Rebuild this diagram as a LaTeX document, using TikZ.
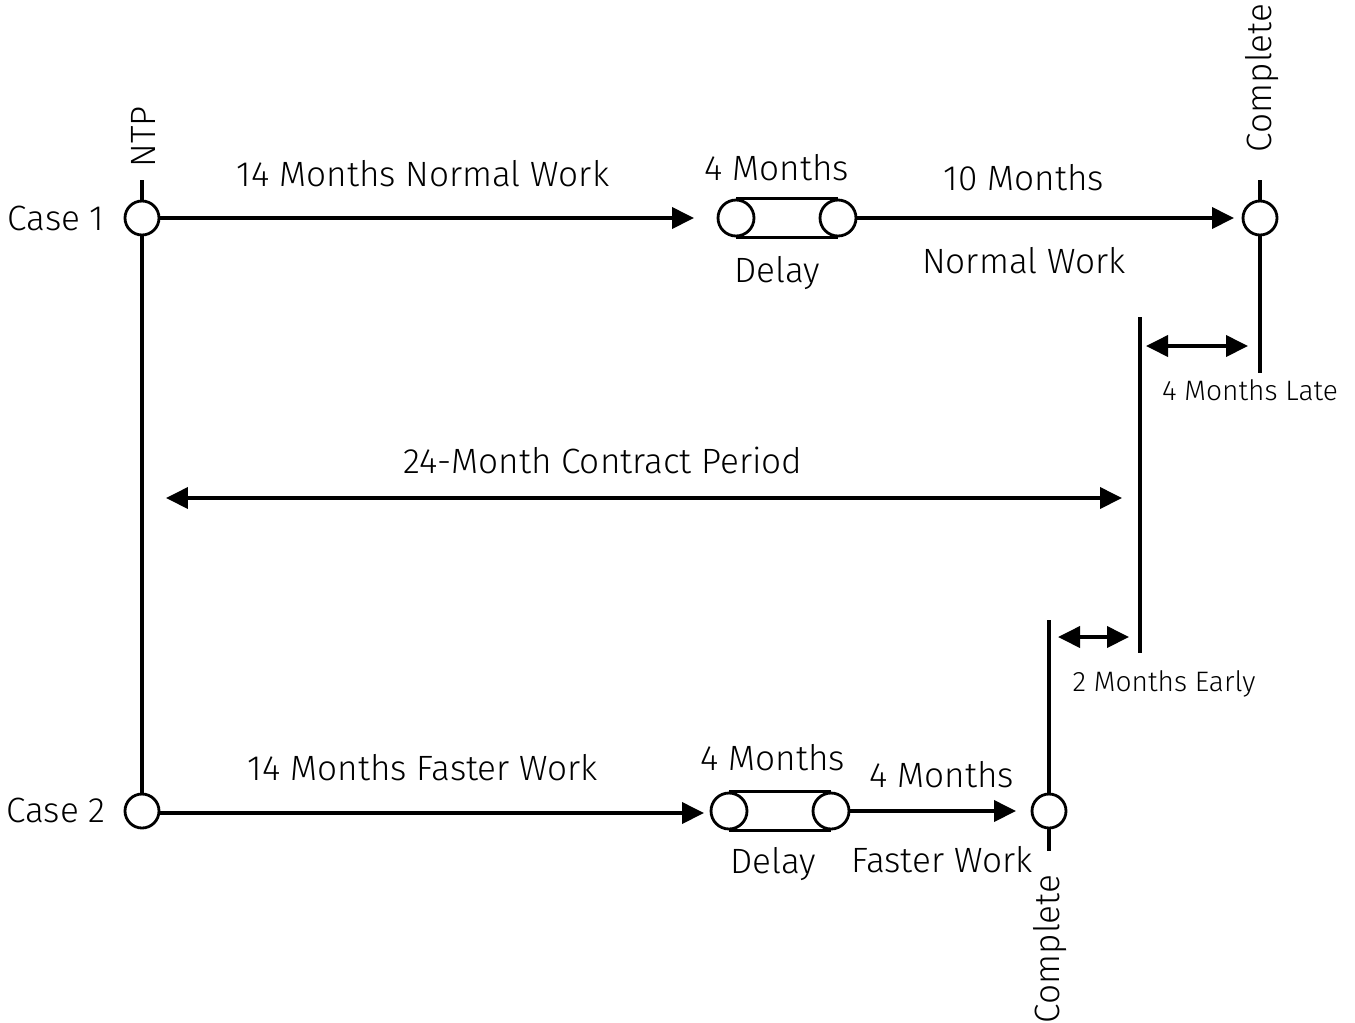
\documentclass[tikz,border=0pt]{standalone}
\usepackage{fontspec}
\setmainfont{Fira Sans}[UprightFont=* Light]
\usetikzlibrary{positioning,arrows.meta}

\begin{document}
\begin{tikzpicture}[x=0.02cm,y=-0.02cm,
    evt/.style={draw, circle, line width=1.6pt, minimum size=0.68cm, inner sep=0pt},
    roll/.style={draw, circle, line width=1.6pt, minimum size=0.72cm, inner sep=0pt},
    act/.style={line width=2.2pt, -{Triangle[length=0.44cm,width=0.42cm]}},
    span/.style={line width=2.2pt, {Triangle[length=0.44cm,width=0.42cm]}-{Triangle[length=0.44cm,width=0.42cm]}},
    tick/.style={line width=2.2pt},
    lbl/.style={font=\fontsize{20}{24}\selectfont, inner sep=0pt},
    small/.style={font=\fontsize{16}{19}\selectfont, inner sep=0pt}]
      \useasboundingbox (0,0) rectangle (1355,1022);

      % Case 1 events
      \node[evt] (ntp) at (142, 218) {};
      \node[roll] (d1a) at (736, 218) {};
      \node[roll] (d1b) at (838, 218) {};
      \node[evt] (end1) at (1260, 218) {};

      % Case 2 events
      \node[evt] (c2) at (142, 811) {};
      \node[roll] (d2a) at (729, 811) {};
      \node[roll] (d2b) at (831, 811) {};
      \node[evt] (end2) at (1049, 811) {};

      % Free ends of the ticks and arrows
      \coordinate (ntptop) at (142, 180);
      \coordinate (end1top) at (1260, 180);
      \coordinate (end1bot) at (1260, 373);
      \coordinate (end2top) at (1049, 620);
      \coordinate (end2bot) at (1049, 851);
      \coordinate (duetop) at (1140, 317);
      \coordinate (duebot) at (1140, 653);
      \coordinate (d1in) at (694, 218);
      \coordinate (end1in) at (1234, 218);
      \coordinate (d2in) at (704, 813);
      \coordinate (end2in) at (1016, 811);

      % Ticks
      \draw[tick] (ntp) -- (ntptop);
      \draw[tick] (ntp) -- (c2);
      \draw[tick] (end1) -- (end1top);
      \draw[tick] (end1) -- (end1bot);
      \draw[tick] (end2) -- (end2top);
      \draw[tick] (end2) -- (end2bot);
      \draw[tick] (duetop) -- (duebot);

      % Delay rollers
      \draw[line width=1.6pt] (d1a.north) -- (d1b.north) (d1a.south) -- (d1b.south);
      \draw[line width=1.6pt] (d2a.north) -- (d2b.north) (d2a.south) -- (d2b.south);

      % Work arrows
      \draw[act] (ntp.east |- 0,218) -- (d1in);
      \draw[act] (d1b) -- (end1in);
      \draw[act] (c2.east |- 0,813) -- (d2in);
      \draw[act] (d2b) -- (end2in);

      % Spans
      \draw[span] (166, 498) -- (1122, 498);
      \draw[span] (1146, 346) -- (1248, 346);
      \draw[span] (1058, 637) -- (1129, 637);

      % Labels
      \node[lbl] (case1) at (56, 218) {Case 1};
      \node[lbl] (case2) at (56, 810) {Case 2};
      \node[lbl, rotate=90] (ntplbl) at (143, 137) {NTP};
      \node[lbl, rotate=90] (done1) at (1262, 78) {Complete};
      \node[lbl, rotate=90] (done2) at (1050, 949) {Complete};
      \node[lbl] (w1) at (423, 174) {14 Months Normal Work};
      \node[lbl] (dl1) at (777, 168) {4 Months};
      \node[lbl] (dy1) at (777, 273) {Delay};
      \node[lbl] (r1) at (1024, 178) {10 Months};
      \node[lbl] (r1b) at (1024, 261) {Normal Work};
      \node[lbl] (cp) at (603, 460) {24-Month Contract Period};
      \node[small] (late) at (1250, 390) {4 Months Late};
      \node[small] (early) at (1164, 684) {2 Months Early};
      \node[lbl] (w2) at (423, 768) {14 Months Faster Work};
      \node[lbl] (dl2) at (773, 758) {4 Months};
      \node[lbl] (dy2) at (773, 864) {Delay};
      \node[lbl] (r2) at (942, 775) {4 Months};
      \node[lbl] (r2b) at (942, 860) {Faster Work};
\end{tikzpicture}
\end{document}
